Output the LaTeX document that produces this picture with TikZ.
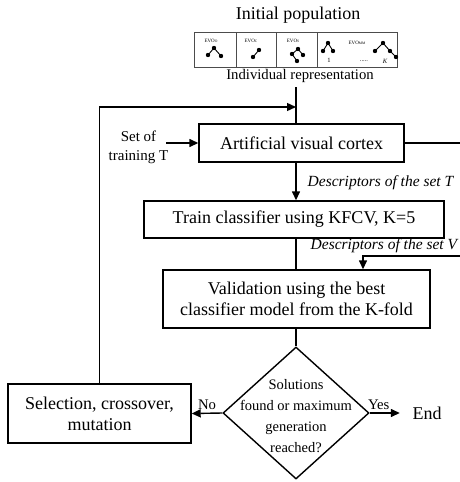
\documentclass[tikz,border=0pt]{standalone}
\usepackage{fontspec}
\setmainfont{Liberation Serif}
\usetikzlibrary{shapes.geometric,arrows.meta}

\newcommand{\fsz}[2]{\fontsize{#1}{#2}\selectfont}
\newcommand{\evolbl}[1]{EVO\raisebox{-0.6pt}{\fsz{3.6}{4}#1}}

\begin{document}
\begin{tikzpicture}[x=1pt,y=-1pt,
  line width=1.4pt,
  arr/.style={-{Triangle[length=9pt,width=8pt]}},
  box/.style={draw,rectangle,inner sep=0pt,align=center,font=\fsz{18}{21}},
  lbl/.style={inner sep=0pt,font=\fsz{15.5}{18}\itshape},
  small/.style={inner sep=0pt,align=center,font=\fsz{14.5}{21}},
  cell/.style={draw=black!70,line width=0.8pt,rectangle,inner sep=0pt,minimum height=35pt},
  dot/.style={circle,fill,inner sep=0pt,minimum size=4.4pt},
  twig/.style={line width=0.9pt},
  evo/.style={inner sep=0pt,font=\fsz{5}{6}},
  ]
\useasboundingbox (0,0) rectangle (459,482);

% ---- initial population and individual representation ----
\node[inner sep=0pt,font=\fsz{18}{21}] (title) at (298,15) {Initial population};
\node[cell,minimum width=42pt] (c1) at (215,49.5) {};
\node[cell,minimum width=40pt] (c2) at (256,49.5) {};
\node[cell,minimum width=41pt] (c3) at (296.5,49.5) {};
\node[cell,minimum width=80pt] (c4) at (357,49.5) {};

\node[evo] (e1) at (211,41) {\evolbl{O}};
\node[evo] (e2) at (251,41) {\evolbl{C}};
\node[evo] (e3) at (293,41) {\evolbl{S}};
\node[evo] (e4) at (357,43) {\evolbl{MM}};

% small trees of each function
\draw[twig] (214,48) -- (208,55) (214,48) -- (221,56);
\foreach \p in {(214,48),(208,55),(221,56)} \node[dot] at \p {};
\draw[twig] (259,50) -- (253,57);
\foreach \p in {(259,50),(253,57)} \node[dot] at \p {};
\draw[twig] (298,49) -- (292,54) -- (297,61) (298,49) -- (303,55);
\foreach \p in {(298,49),(292,54),(303,55),(297,61)} \node[dot] at \p {};
\draw[twig] (328,43) -- (323,51) (328,43) -- (333,51);
\foreach \p in {(328,43),(323,51),(333,51)} \node[dot] at \p {};
\draw[twig] (383,43) -- (375,51) (383,43) -- (390,51) -- (396,57);
\foreach \p in {(383,43),(375,51),(390,51),(396,57)} \node[dot] at \p {};
\node[evo,font=\fsz{6.5}{7}] (one) at (329,60) {1};
\node[evo,font=\fsz{6.5}{7}] (dots) at (364,61) {.....};
\node[evo,font=\fsz{6.5}{7}\itshape] (kk) at (385,61) {K};

\node[inner sep=0pt,font=\fsz{14.7}{17}] (indiv) at (300,75.5) {Individual representation};

% ---- main flow ----
\coordinate (ptop) at (296,87);
\coordinate (loop) at (296,107);
\node[box,minimum width=205pt,minimum height=38pt] (cortex) at (301.5,143) {Artificial visual cortex};
\node[small,font=\fsz{15}{19}] (settrain) at (138.5,147.5) {Set of\\training T};
\coordinate (tin) at (166,143);
\node[box,minimum width=300pt,minimum height=37pt] (train) at (294,219.5) {Train classifier using KFCV, K=5};
\node[box,minimum width=267pt,minimum height=58pt] (valid) at (296.5,299) {Validation using the best\\classifier model from the K-fold};
\node[draw,diamond,inner sep=0pt,minimum width=146pt,minimum height=132pt] (dec) at (296,413) {};
\node[small] (dectext) at (296,416) {Solutions\\found or maximum\\generation\\reached?};
\node[box,minimum width=183pt,minimum height=59pt] (sel) at (99.5,413.5) {Selection, crossover,\\mutation};
\node[inner sep=0pt,font=\fsz{18}{21}] (endn) at (427,413) {End};

\node[lbl,anchor=west] (dT) at (307,183) {Descriptors of the set T};
\node[lbl,anchor=west] (dV) at (310,246) {Descriptors of the set V};

\coordinate (rt) at (460.5,256);
\coordinate (vin) at (363,256);

% connectors
\draw (ptop) -- (ptop |- cortex.north);
\draw[arr] (tin) -- (cortex.west);
\draw[arr] (ptop |- cortex.south) -- (ptop |- train.north);
\draw (ptop |- train.south) -- (ptop |- valid.north);
\draw[arr] (cortex.east) -| (rt) -- (vin) -- (vin |- valid.north);
\draw (ptop |- valid.south) -- (dec.north);
\draw[arr] (dec.west) -- (sel.east) node[pos=0.5,above=3pt,inner sep=0pt,font=\fsz{14.7}{17}] (no) {No};
\draw[arr] (dec.east) -- ([xshift=-12pt]endn.west) node[pos=0.3,above=3pt,inner sep=0pt,font=\fsz{14.7}{17}] (yes) {Yes};
\draw[arr] (sel.north) -- (sel.north |- loop) -- (loop);
\end{tikzpicture}
\end{document}
